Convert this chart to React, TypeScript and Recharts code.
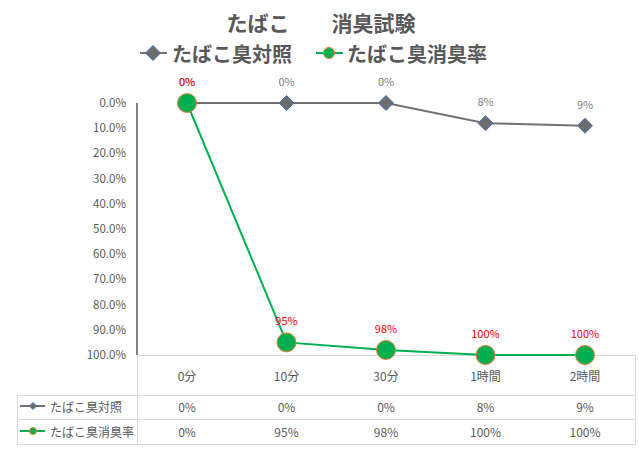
import React from 'react';
import { LineChart, Line, XAxis, YAxis, LabelList, Customized } from 'recharts';

const categories = ['0分', '10分', '30分', '1時間', '2時間'];
const controlValues = [0, 0, 0, 0.08, 0.09];
const deodorValues = [0, 0.95, 0.98, 1.0, 1.0];
const yTicks = [0, 0.1, 0.2, 0.3, 0.4, 0.5, 0.6, 0.7, 0.8, 0.9, 1.0];
const seriesNames = ['たばこ臭対照', 'たばこ臭消臭率'];
const titleText = 'たばこ　　消臭試験';

const data = categories.map((c, i) => ({ cat: c, control: controlValues[i], deodor: deodorValues[i] }));

const FONT = "'Noto Sans CJK JP', 'Noto Sans', sans-serif";
const TEXT = '#595959';
const GRID = '#d9d9d9';
const GRAY_LINE = '#767171';
const DIAMOND_FILL = '#6d6d6d';
const DIAMOND_STROKE = '#4472c4';
const GREEN = '#00b050';
const ORANGE = '#ed7d31';

const pct = (v: number) => `${Math.round(v * 100)}%`;

const diamondPath = (cx: number, cy: number, h: number) =>
  `M${cx},${cy - h} L${cx + h},${cy} L${cx},${cy + h} L${cx - h},${cy} Z`;

const DiamondDot = (props: any) => {
  const { cx, cy, index } = props;
  if (cx == null || cy == null) return <g key={`d${index}`} />;
  return (
    <path key={`d${index}`} d={diamondPath(cx, cy, 7.5)} fill={DIAMOND_FILL} stroke={DIAMOND_STROKE} strokeWidth={1} />
  );
};

const makeLabel = (color: string) => (p: any) => {
  const { x, y, value, index } = p;
  return (
    <text key={`l${index}`} x={x} y={y - 22} textAnchor="middle" dominantBaseline="central" fontSize={11} fontFamily={FONT} fill={color}>
      {pct(value)}
    </text>
  );
};

const TableTick = (props: any) => {
  const { x, y, payload, index } = props;
  const i = payload?.index ?? index;
  return (
    <g>
      <text x={x} y={y + 20} textAnchor="middle" dominantBaseline="central" fontSize={12} fontFamily={FONT} fill={TEXT}>
        {payload.value}
      </text>
      <text x={x} y={y + 51} textAnchor="middle" dominantBaseline="central" fontSize={12} fontFamily={FONT} fill={TEXT}>
        {pct(controlValues[i])}
      </text>
      <text x={x} y={y + 76} textAnchor="middle" dominantBaseline="central" fontSize={12} fontFamily={FONT} fill={TEXT}>
        {pct(deodorValues[i])}
      </text>
    </g>
  );
};

const Decor = () => (
  <g>
    {/* title */}
    <text x={321} y={22} textAnchor="middle" dominantBaseline="central" fontSize={21} fontWeight="bold" fontFamily={FONT} fill={TEXT}>
      {titleText}
    </text>
    {/* legend */}
    <line x1={140} y1={53} x2={167} y2={53} stroke={GRAY_LINE} strokeWidth={2} />
    <path d={diamondPath(153, 53, 7.5)} fill={DIAMOND_FILL} stroke={DIAMOND_STROKE} strokeWidth={1} />
    <text x={172} y={53} dominantBaseline="central" fontSize={20} fontWeight="bold" fontFamily={FONT} fill={TEXT}>
      {seriesNames[0]}
    </text>
    <line x1={316} y1={53} x2={343} y2={53} stroke={GREEN} strokeWidth={2} />
    <circle cx={329} cy={53} r={5.5} fill={GREEN} stroke={ORANGE} strokeWidth={1} />
    <text x={347} y={53} dominantBaseline="central" fontSize={20} fontWeight="bold" fontFamily={FONT} fill={TEXT}>
      {seriesNames[1]}
    </text>
    {/* data table grid */}
    <line x1={137} y1={355.5} x2={635} y2={355.5} stroke={GRID} strokeWidth={1} />
    <line x1={17} y1={395.5} x2={635} y2={395.5} stroke={GRID} strokeWidth={1} />
    <line x1={17} y1={419.5} x2={635} y2={419.5} stroke={GRID} strokeWidth={1} />
    <line x1={17} y1={444.5} x2={635} y2={444.5} stroke={GRID} strokeWidth={1} />
    <line x1={137.5} y1={355} x2={137.5} y2={445} stroke={GRID} strokeWidth={1} />
    <line x1={635.5} y1={355} x2={635.5} y2={445} stroke={GRID} strokeWidth={1} />
    <line x1={17.5} y1={395} x2={17.5} y2={445} stroke={GRID} strokeWidth={1} />
    {/* row headers */}
    <line x1={20} y1={406} x2={45} y2={406} stroke={GRAY_LINE} strokeWidth={2} />
    <path d={diamondPath(33, 406, 3.5)} fill={DIAMOND_FILL} stroke={DIAMOND_STROKE} strokeWidth={1} />
    <text x={50} y={406} dominantBaseline="central" fontSize={12} fontFamily={FONT} fill={TEXT}>
      {seriesNames[0]}
    </text>
    <line x1={20} y1={431} x2={45} y2={431} stroke={GREEN} strokeWidth={2} />
    <circle cx={33} cy={431} r={3.5} fill={GREEN} stroke={ORANGE} strokeWidth={1} />
    <text x={50} y={431} dominantBaseline="central" fontSize={12} fontFamily={FONT} fill={TEXT}>
      {seriesNames[1]}
    </text>
  </g>
);

export default function App() {
  return (
    <div style={{ position: 'absolute', left: 0, top: 0, width: 639, height: 449, background: '#fff' }}>
      <LineChart width={639} height={449} data={data} margin={{ top: 103, right: 4, bottom: 0, left: 0 }}>
        <Customized component={Decor} />
        <XAxis
          dataKey="cat"
          height={94}
          axisLine={false}
          tickLine={false}
          tickSize={0}
          tickMargin={0}
          interval={0}
          padding={{ left: 50, right: 50 }}
          tick={<TableTick />}
        />
        <YAxis
          width={137}
          reversed
          domain={[0, 1]}
          ticks={yTicks}
          interval={0}
          tickFormatter={(v: number) => `${(v * 100).toFixed(1)}%`}
          axisLine={{ stroke: '#000', strokeWidth: 1 }}
          tickLine={false}
          tickSize={0}
          tickMargin={11}
          tick={{ fill: TEXT, fontSize: 11.5, fontFamily: FONT }}
        />
        <Line
          type="linear"
          dataKey="control"
          name={seriesNames[0]}
          stroke={GRAY_LINE}
          strokeWidth={2}
          dot={DiamondDot}
          activeDot={false}
          isAnimationActive={false}
        >
          <LabelList dataKey="control" content={makeLabel('#7f7f7f')} />
        </Line>
        <Line
          type="linear"
          dataKey="deodor"
          name={seriesNames[1]}
          stroke={GREEN}
          strokeWidth={2}
          dot={{ r: 9.5, fill: GREEN, stroke: ORANGE, strokeWidth: 1 }}
          activeDot={false}
          isAnimationActive={false}
        >
          <LabelList dataKey="deodor" content={makeLabel('#ff0000')} />
        </Line>
      </LineChart>
    </div>
  );
}
